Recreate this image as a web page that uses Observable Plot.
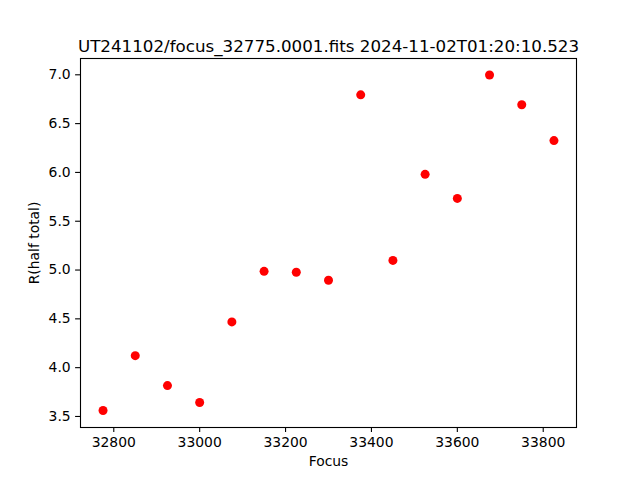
<!DOCTYPE html>
<html>
<head>
<meta charset="utf-8">
<script src="https://cdn.jsdelivr.net/npm/d3@7"></script>
<script src="https://cdn.jsdelivr.net/npm/@observablehq/plot@0.6"></script>
<style>
  html, body { margin: 0; padding: 0; background: white; }
</style>
</head>
<body>
<div id="chart"></div>
<script>
const titleText = "UT241102/focus_32775.0001.fits 2024-11-02T01:20:10.523";
const xLabel = "Focus";
const yLabel = "R(half total)";
const focus = [32775, 32850, 32925, 33000, 33075, 33150, 33225, 33300, 33375, 33450, 33525, 33600, 33675, 33750, 33825];
const rHalf = [3.561, 4.123, 3.816, 3.643, 4.469, 4.987, 4.977, 4.895, 6.795, 5.099, 5.980, 5.734, 6.998, 6.693, 6.326];
const xTicks = [32800, 33000, 33200, 33400, 33600, 33800];
const yTicks = [3.5, 4.0, 4.5, 5.0, 5.5, 6.0, 6.5, 7.0];

const data = focus.map((f, i) => ({focus: f, r: rHalf[i]}));

const chart = Plot.plot({
  width: 640,
  height: 480,
  marginLeft: 80,
  marginRight: 64,
  marginTop: 58,
  marginBottom: 53,
  style: {fontFamily: "DejaVu Sans", fontSize: "13.9px", color: "black", background: "white", overflow: "visible"},
  x: {domain: [32722.5, 33877.5]},
  y: {domain: [3.387, 7.167]},
  marks: [
    Plot.frame({stroke: "black", strokeWidth: 1.1}),
    Plot.axisX(xTicks, {tickSize: 4.9, tickPadding: 4.9, tickFormat: d => String(d), label: null, fontSize: 13.9, strokeWidth: 1.1}),
    Plot.axisY(yTicks, {tickSize: 4.9, tickPadding: 4.9, tickFormat: d => d.toFixed(1), label: null, fontSize: 13.9, strokeWidth: 1.1}),
    Plot.dot(data, {x: "focus", y: "r", r: 4.5, fill: "red"}),
    Plot.text([titleText], {frameAnchor: "top", dy: -18, fontSize: 16.7}),
    Plot.text([xLabel], {frameAnchor: "bottom", dy: 38, fontSize: 13.9}),
    Plot.text([yLabel], {frameAnchor: "left", textAnchor: "middle", dx: -46, rotate: -90, fontSize: 13.9})
  ]
});
document.getElementById("chart").append(chart);
</script>
</body>
</html>
